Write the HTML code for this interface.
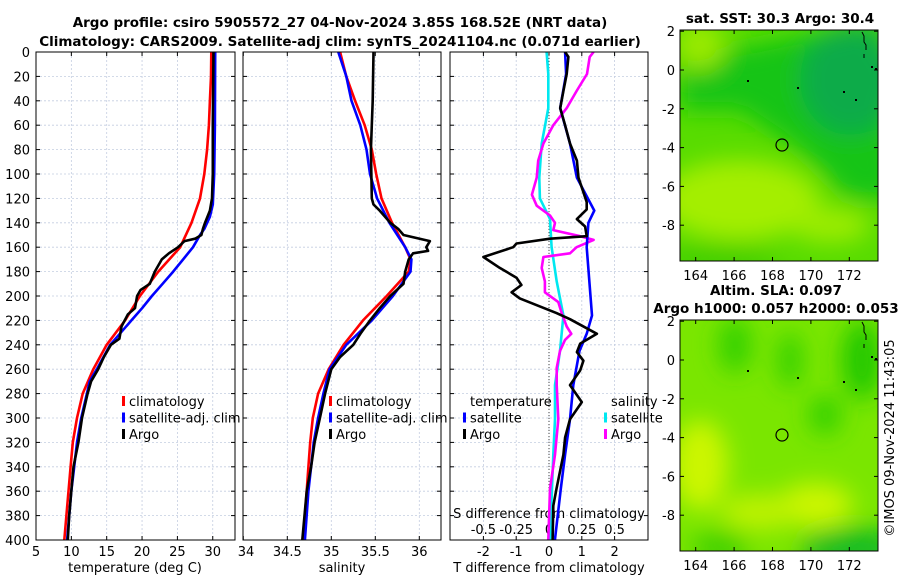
<!DOCTYPE html>
<html><head><meta charset="utf-8"><style>
html,body{margin:0;padding:0;background:#fff;}
svg{display:block;font-family:"DejaVu Sans","Liberation Sans",sans-serif;}
</style></head><body>
<svg id="fig" width="900" height="580" viewBox="0 0 900 580" xmlns="http://www.w3.org/2000/svg">
<defs>
<clipPath id="cp1"><rect x="36" y="52" width="199" height="488"/></clipPath>
<clipPath id="cp2"><rect x="243" y="52" width="198" height="488"/></clipPath>
<clipPath id="cp3"><rect x="450" y="52" width="198" height="488"/></clipPath>
<clipPath id="cpm1"><rect x="680" y="30" width="198" height="231"/></clipPath>
<clipPath id="cpm2"><rect x="680" y="320" width="198" height="231"/></clipPath>
<filter id="bl" x="-50%" y="-50%" width="200%" height="200%"><feGaussianBlur stdDeviation="12"/></filter>
</defs>
<text x="340" y="27" text-anchor="middle" font-weight="bold" font-size="13.5">Argo profile: csiro 5905572_27 04-Nov-2024 3.85S 168.52E (NRT data)</text>
<text x="340" y="46" text-anchor="middle" font-weight="bold" font-size="13.5">Climatology: CARS2009. Satellite-adj clim: synTS_20241104.nc (0.071d earlier)</text>

<g>
<text x="780" y="23" text-anchor="middle" font-weight="bold" font-size="13.5">sat. SST: 30.3 Argo: 30.4</text>
<g clip-path="url(#cpm1)">
<rect x="680" y="30" width="198" height="231" fill="#58dc00"/>
<g filter="url(#bl)">
<polygon points="680,60 880,20 900,200 850,200 800,150 740,110 680,110" fill="#18c418"/>
<ellipse cx="850" cy="80" rx="50" ry="55" fill="#0aab4a"/>
<ellipse cx="700" cy="45" rx="25" ry="25" fill="#9aea00"/>
<ellipse cx="740" cy="200" rx="80" ry="40" fill="#a4ee00"/>
<ellipse cx="830" cy="225" rx="40" ry="18" fill="#9cec00"/>
<ellipse cx="720" cy="258" rx="60" ry="12" fill="#3ccc00"/>
</g>
</g>
<rect x="680" y="30" width="198" height="231" fill="none" stroke="#000" stroke-width="1"/>
<circle cx="782" cy="145" r="6" fill="none" stroke="#000" stroke-width="1.2"/>
<g id="m1ticks"></g>
</g>

<g>
<text x="776" y="295" text-anchor="middle" font-weight="bold" font-size="13.5">Altim. SLA: 0.097</text>
<text x="776" y="313" text-anchor="middle" font-weight="bold" font-size="13.5">Argo h1000: 0.057 h2000: 0.053</text>
<g clip-path="url(#cpm2)">
<rect x="680" y="320" width="198" height="231" fill="#7ae600"/>
<g filter="url(#bl)">
<ellipse cx="735" cy="345" rx="16" ry="28" fill="#30d000"/>
<ellipse cx="790" cy="360" rx="12" ry="28" fill="#30d000"/>
<ellipse cx="825" cy="415" rx="16" ry="20" fill="#30d000"/>
<ellipse cx="862" cy="360" rx="20" ry="40" fill="#20c800"/>
<ellipse cx="700" cy="465" rx="28" ry="45" fill="#ccf600"/>
<ellipse cx="815" cy="505" rx="38" ry="22" fill="#ccf600"/>
<ellipse cx="760" cy="512" rx="40" ry="18" fill="#bef200"/>
<ellipse cx="720" cy="548" rx="28" ry="16" fill="#40d000"/>
<ellipse cx="855" cy="548" rx="55" ry="20" fill="#14bc20"/>
</g>
</g>
<rect x="680" y="320" width="198" height="231" fill="none" stroke="#000" stroke-width="1"/>
<circle cx="782" cy="435" r="6" fill="none" stroke="#000" stroke-width="1.2"/>
<g id="m2ticks"></g>
</g>
<text transform="translate(894,438) rotate(-90)" text-anchor="middle" font-size="13">©IMOS 09-Nov-2024 11:43:05</text>
<g id="plots"></g>
</svg>
<script>
// ---------- data ----------
const depthTicks = [0,20,40,60,80,100,120,140,160,180,200,220,240,260,280,300,320,340,360,380,400];
const tempTicks = [5,10,15,20,25,30];
const salTicks = [34,34.5,35,35.5,36];
const tdiffTicks = [-2,-1,0,1,2];
const sdiffTicks = [-0.5,-0.25,0,0.25,0.5];

const climTDepth = [0,20,40,60,80,100,120,140,160,180,200,220,240,260,280,300,320,340,360,380,400];
const climT = [29.8,29.75,29.6,29.45,29.2,28.8,28.2,27.0,25.4,22.3,19.7,17.6,15.0,13.1,11.6,10.8,10.2,9.9,9.6,9.3,9.0];
const satTDepth = [0,60,100,125,135,145,150,160,170,180,190,200,210,220,240,260,270,280,300,320,340,360,380,400];
const satT = [30.35,30.3,30.2,30.0,29.6,28.8,28.2,27.2,25.8,24.4,22.9,21.4,20.0,18.5,15.5,13.6,12.6,12.2,11.4,10.8,10.4,10.0,9.7,9.4];
const argoTDepth = [0,60,100,120,130,140,145,150,153,155,160,165,170,180,190,195,200,210,215,225,235,240,250,260,270,280,300,320,340,360,380,400];
const argoT = [30.1,30.0,30.0,29.9,29.6,28.9,28.6,28.4,27.5,26.0,25.1,23.8,22.8,21.8,21.1,19.8,19.3,19.0,18.0,17.1,16.8,15.6,14.6,13.8,12.8,12.3,11.5,11.0,10.3,10.0,9.7,9.5];

const climSDepth = [0,20,40,60,80,100,120,140,160,170,180,200,220,240,260,280,300,320,340,360,380,400];
const climS = [35.10,35.17,35.27,35.38,35.46,35.51,35.57,35.69,35.84,35.90,35.88,35.63,35.36,35.14,34.97,34.85,34.79,34.76,34.74,34.72,34.70,34.68];
const satSDepth = [0,20,40,60,80,100,120,140,160,170,180,200,220,240,260,280,300,320,340,360,400];
const satS = [35.08,35.17,35.23,35.33,35.40,35.44,35.52,35.66,35.84,35.91,35.90,35.70,35.46,35.17,34.98,34.91,34.85,34.80,34.77,34.74,34.70];
const argoSDepth = [0,40,80,120,125,130,140,145,150,155,160,163,165,170,180,190,200,210,220,230,240,250,260,280,300,320,340,360,400];
const argoS = [35.48,35.47,35.45,35.46,35.48,35.55,35.67,35.76,35.82,36.12,36.08,36.10,35.93,35.88,35.84,35.82,35.67,35.55,35.44,35.34,35.25,35.10,35.00,34.93,34.87,34.81,34.77,34.72,34.67];

const satTdDepth = [0,18,46,75,103,130,140,160,216,231,245,273,301,330,358,400];
const satTd = [0.49,0.52,0.34,0.64,0.85,1.38,1.2,1.15,1.31,1.15,0.93,0.74,0.64,0.49,0.36,0.18];
const argoTdDepth = [0,4,18,32,46,60,75,89,103,123,129,137,143,151,153,157,160,168,177,185,191,197,202,214,219,231,239,246,253,261,273,287,301,316,330,358,372,400];
const argoTd = [0.49,0.59,0.54,0.44,0.34,0.49,0.64,0.85,0.90,1.15,1.15,0.85,1.10,1.15,0.03,-0.99,-1.09,-2.0,-1.5,-0.99,-0.84,-1.14,-0.89,0.23,0.64,1.46,0.95,0.85,1.05,0.95,0.64,1.0,0.64,0.49,0.44,0.23,0.13,0.11];
const satSdDepth = [0,18,46,75,103,120,137,160,188,216,245,273,301,330,400];
const satSd = [-0.018,-0.005,-0.005,-0.056,-0.074,-0.069,0.008,0.02,0.059,0.110,0.084,0.046,0.046,0.033,0.008];
const argoSdDepth = [0,4,18,32,46,60,75,89,103,117,126,134,140,146,151,154,160,165,168,177,188,197,205,214,225,231,236,245,259,273,301,330,358,400];
const argoSd = [0.34,0.31,0.29,0.21,0.135,0.033,-0.043,-0.082,-0.094,-0.13,-0.094,0.008,0.046,0.033,0.237,0.34,0.21,0.16,-0.043,-0.056,-0.031,-0.031,0.071,0.097,0.135,0.17,0.122,0.084,0.059,0.059,0.071,0.046,0.008,-0.005];

const lonTicks = [164,166,168,170,172];
const latTicks = [2,0,-2,-4,-6,-8];

// ---------- axes ----------
const Y0=52, Y1=540;
const yD = d => Y0 + d*(Y1-Y0)/400;
const xT = t => 36 + (t-5)*7.07;
const xS = s => 243.3 + (s-34)*88;
const xTd = t => 549 + t*32.8;
const xSd = s => 549 + s*4*32.8;
const mLon = l => 695.7 + (l-164)*19.2;
const mLat = (l,top) => top + 40 + (0-l)*19.4;

const NS="http://www.w3.org/2000/svg";
const plots=document.getElementById('plots');
function mk(tag,attrs,parent){const e=document.createElementNS(NS,tag);for(const k in attrs)e.setAttribute(k,attrs[k]);(parent||plots).appendChild(e);return e;}
function txt(x,y,s,size,anchor,parent){const e=mk('text',{x:x,y:y,'font-size':size,'text-anchor':anchor||'middle'},parent);e.textContent=s;return e;}

const panels=[{x0:36,x1:235,clip:'cp1',name:'temperature-panel'},{x0:243,x1:441,clip:'cp2',name:'salinity-panel'},{x0:450,x1:648,clip:'cp3',name:'difference-panel'}];
const pg=[];
panels.forEach((p,i)=>{
  const g=mk('g',{});
  
  
  pg.push(g);
  const grid=mk('g',{stroke:'#c4cde0','stroke-width':0.8,'stroke-dasharray':'2,2'},g);
  
  
  depthTicks.forEach(d=>{ if(d>0&&d<400) mk('line',{x1:p.x0,x2:p.x1,y1:yD(d),y2:yD(d)},grid); });
  const vt = i==0?tempTicks.map(xT):i==1?salTicks.map(xS):tdiffTicks.map(xTd);
  vt.forEach(x=>{ if(x>p.x0+1&&x<p.x1-1) mk('line',{x1:x,x2:x,y1:Y0,y2:Y1},grid); });
  const tk=mk('g',{stroke:'#000','stroke-width':1},g);
  depthTicks.forEach(d=>{ mk('line',{x1:p.x0,x2:p.x0+4,y1:yD(d),y2:yD(d)},tk); mk('line',{x1:p.x1-4,x2:p.x1,y1:yD(d),y2:yD(d)},tk); });
  vt.forEach(x=>{ mk('line',{x1:x,x2:x,y1:Y1,y2:Y1-4},tk); mk('line',{x1:x,x2:x,y1:Y0,y2:Y0+4},tk); });
});
depthTicks.forEach(d=>{ const t=txt(30,yD(d)+5,String(d),13,'end',pg[0]);
  
   });
tempTicks.forEach(v=>{ const t=txt(xT(v),556,String(v),13,'middle',pg[0]);
  
   });
txt(xT(34)+5,556,'34',13,'middle',pg[0]);
salTicks.forEach(v=>{ if(v>34){ const t=txt(xS(v),556,String(v),13,'middle',pg[1]);
  
   }});
tdiffTicks.forEach(v=>{ const t=txt(xTd(v),556,String(v),13,'middle',pg[2]);
  
   });
let lab=txt(135,572,'temperature (deg C)',13,'middle',pg[0]);


lab=txt(342,572,'salinity',13,'middle',pg[1]);


lab=txt(549,572,'T difference from climatology',13,'middle',pg[2]);


lab=txt(549,518,'S difference from climatology',13,'middle',pg[2]);


sdiffTicks.forEach(v=>{ const t=txt(xSd(v),534,String(v),13,'middle',pg[2]);
  
   });

function line(gi,depths,vals,xf,color,name){
  const pts=depths.map((d,i)=>xf(vals[i]).toFixed(1)+','+yD(d).toFixed(1)).join(' ');
  const pl=mk('polyline',{points:pts,fill:'none',stroke:color,'stroke-width':2.6,'stroke-linejoin':'round','clip-path':'url(#'+panels[gi].clip+')'},pg[gi]);
  
  
}
mk('line',{x1:xTd(0),x2:xTd(0),y1:Y0,y2:Y1,stroke:'#444','stroke-width':1,'stroke-dasharray':'1,2'},pg[2]);
line(0,climTDepth,climT,xT,'#ff0000','temp-climatology-line');
line(0,satTDepth,satT,xT,'#0000ff','temp-satellite-line');
line(0,argoTDepth,argoT,xT,'#000000','temp-argo-line');
line(1,climSDepth,climS,xS,'#ff0000','sal-climatology-line');
line(1,satSDepth,satS,xS,'#0000ff','sal-satellite-line');
line(1,argoSDepth,argoS,xS,'#000000','sal-argo-line');
line(2,satSdDepth,satSd,xSd,'#00e8f0','sdiff-satellite-line');
line(2,argoSdDepth,argoSd,xSd,'#ff00ff','sdiff-argo-line');
line(2,satTdDepth,satTd,xTd,'#0000ff','tdiff-satellite-line');
line(2,argoTdDepth,argoTd,xTd,'#000000','tdiff-argo-line');

panels.forEach((p,i)=>{ mk('rect',{x:p.x0,y:Y0,width:p.x1-p.x0,height:Y1-Y0,fill:'none',stroke:'#000','stroke-width':1},pg[i]); });

function legend(gi,x,y,items){
  items.forEach((it,k)=>{
    const lg=mk('g',{},pg[gi]);
    
    
    if(it[1]) mk('rect',{x:x,y:y+k*16.5-10,width:3,height:10,fill:it[1]},lg);
    txt(x+7,y+k*16.5,it[0],13,'start',lg);
  });
}
legend(0,122,406,[['climatology','#ff0000'],['satellite-adj. clim','#0000ff'],['Argo','#000000']]);
legend(1,329,406,[['climatology','#ff0000'],['satellite-adj. clim','#0000ff'],['Argo','#000000']]);
legend(2,463,406,[['temperature',null],['satellite','#0000ff'],['Argo','#000000']]);
legend(2,604,406,[['salinity',null],['satellite','#00e8f0'],['Argo','#ff00ff']]);

[['m1ticks',30],['m2ticks',320]].forEach(([id,top])=>{
  const g=document.getElementById(id);
  lonTicks.forEach(l=>{ const x=mLon(l); mk('line',{x1:x,x2:x,y1:top+231,y2:top+227,stroke:'#000'},g); mk('line',{x1:x,x2:x,y1:top,y2:top+4,stroke:'#000'},g);
    const t=txt(x,top+250,String(l),13,'middle',g);
    
     });
  latTicks.forEach(l=>{ const y=mLat(l,top); mk('line',{x1:680,x2:684,y1:y,y2:y,stroke:'#000'},g); mk('line',{x1:878,x2:874,y1:y,y2:y,stroke:'#000'},g);
    const t=txt(675,y+5,String(l),13,'end',g);
    
     });
  mk('path',{d:'M862,'+(top+2)+' l2,4 l0,6 l2,3 l0,5 M864,'+(top+24)+' l0,4',stroke:'#000','stroke-width':1,fill:'none'},g);
  [[871,36],[875,38],[747,50],[797,57],[843,61],[855,69]].forEach(p=>mk('rect',{x:p[0],y:top+p[1],width:2,height:2,fill:'#000'},g));
});
</script>
</body></html>
